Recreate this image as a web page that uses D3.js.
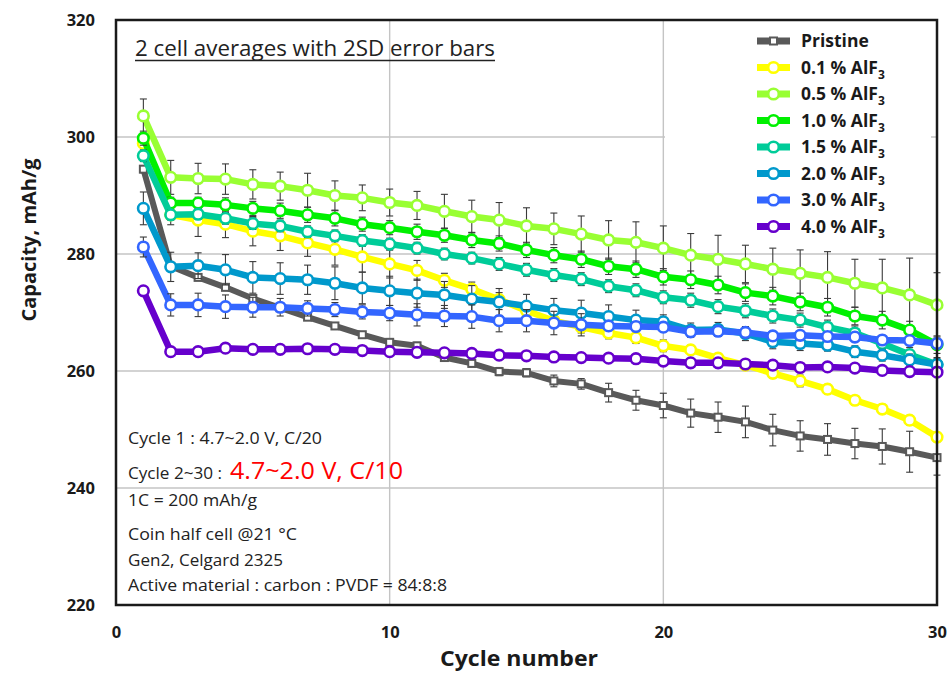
<!DOCTYPE html>
<html>
<head>
<meta charset="utf-8">
<script src="https://cdn.jsdelivr.net/npm/d3@7"></script>
<style>
  html, body { margin: 0; padding: 0; background: #fff; }
  svg { display: block; }
  text { font-family: "Open Sans", "Noto Sans", sans-serif; }
</style>
</head>
<body>
<svg id="chart" width="949" height="676"></svg>
<script>
// Cycle index (x categories)
const cycles = [1,2,3,4,5,6,7,8,9,10,11,12,13,14,15,16,17,18,19,20,21,22,23,24,25,26,27,28,29,30];

// Average discharge capacity (mAh/g) per cycle for each coating level
const pristine  = [294.5,277.9,276.0,274.3,272.4,270.8,269.2,267.7,266.2,264.9,264.3,262.3,261.3,259.9,259.7,258.3,257.8,256.3,255.0,254.1,252.8,252.1,251.3,249.9,248.9,248.3,247.6,247.1,246.2,245.2];
const alf3_01   = [298.9,286.7,285.8,285.1,283.9,283.1,281.9,280.8,279.5,278.3,277.2,275.5,274.0,272.2,270.3,268.6,267.5,266.5,265.7,264.3,263.6,262.2,261.0,259.6,258.3,256.9,255.0,253.5,251.6,248.7];
const alf3_05   = [303.6,293.1,292.9,292.8,291.9,291.6,290.9,290.0,289.6,288.8,288.3,287.3,286.4,285.8,284.8,284.3,283.4,282.4,282.0,281.0,279.8,279.1,278.3,277.4,276.7,276.0,275.0,274.2,273.0,271.3];
const alf3_10   = [299.8,288.7,288.7,288.4,287.8,287.4,286.7,286.1,285.1,284.5,283.8,283.2,282.4,281.8,280.7,279.8,279.1,277.9,277.4,276.1,275.6,274.7,273.4,272.8,271.8,270.9,269.4,268.7,267.0,264.5];
const alf3_15   = [296.8,286.7,286.8,286.1,285.2,284.8,283.8,283.1,282.3,281.7,281.0,280.0,279.3,278.3,277.3,276.4,275.7,274.5,273.8,272.6,272.1,271.0,270.3,269.4,268.7,267.5,266.5,264.7,262.8,261.1];
const alf3_20   = [287.8,277.8,278.0,277.3,276.0,275.8,275.6,275.0,274.2,273.7,273.3,273.0,272.3,271.8,271.1,270.4,269.9,269.3,268.7,268.4,267.0,267.1,266.4,265.0,264.7,264.4,263.3,262.7,261.9,261.1];
const alf3_30   = [281.2,271.3,271.3,271.0,270.9,270.9,270.7,270.5,270.1,269.9,269.6,269.4,269.3,268.6,268.6,268.2,267.9,267.7,267.6,267.5,266.7,266.8,266.6,266.0,266.1,265.9,265.8,265.3,265.2,264.7];
const alf3_40   = [273.7,263.3,263.3,263.9,263.7,263.7,263.8,263.7,263.5,263.3,263.2,263.1,263.0,262.7,262.6,262.4,262.3,262.2,262.1,261.7,261.4,261.4,261.2,261.0,260.6,260.7,260.5,260.1,259.9,259.8];

// 2SD error half-widths (mAh/g)
const pristineErr = [0.6,0.5,0.5,0.5,0.5,0.5,0.5,0.5,0.5,0.5,0.6,0.6,0.6,0.7,0.7,1.0,0.9,1.6,1.7,2.1,2.4,2.6,2.7,2.7,2.6,2.7,2.6,3.0,3.5,3.0];
const alf3_01Err  = [1.5,1.7,2.8,2.3,2.5,2.5,2.3,2.7,2.6,2.4,1.7,1.2,1.2,1.2,1.0,1.0,1.0,1.0,1.0,1.0,0.8,0.8,0.8,0.8,1.0,0.8,0.8,0.8,0.8,0.8];
const alf3_05Err  = [2.9,2.9,2.6,2.6,2.5,2.4,2.9,2.5,2.2,2.3,2.4,2.9,2.8,3.0,3.1,2.7,3.1,3.3,3.5,3.8,3.7,4.1,3.2,3.6,4.0,4.4,4.1,4.9,6.3,5.5];
const alf3_10Err  = [1.2,1.0,1.0,1.2,1.2,1.3,1.3,1.3,1.2,1.2,1.3,1.2,1.3,1.3,1.3,1.3,1.4,1.4,1.4,1.4,1.5,1.5,1.5,1.5,1.5,1.5,1.5,1.5,1.5,1.5];
const alf3_15Err  = [1.0,0.9,0.9,1.0,1.0,1.0,1.0,1.0,1.0,1.0,1.0,1.0,1.0,1.1,1.1,1.1,1.1,1.1,1.1,1.1,1.2,1.2,1.2,1.2,1.2,1.2,1.2,1.2,1.2,1.2];
const alf3_20Err  = [2.8,2.5,2.2,2.6,2.7,2.7,2.5,2.8,2.7,2.5,2.4,2.3,2.3,2.3,2.0,2.0,2.2,2.0,1.7,1.2,1.2,1.2,1.2,1.2,1.2,1.0,1.0,1.0,1.0,1.0];
const alf3_30Err  = [1.7,1.9,2.0,2.0,1.7,1.5,1.3,1.2,1.2,1.3,1.9,1.8,2.0,1.9,1.9,2.0,1.9,0.8,0.8,0.8,0.9,0.9,0.9,0.8,0.8,0.8,0.8,0.8,0.8,0.8];
const alf3_40Err  = [0.4,0.3,0.3,0.3,0.3,0.3,0.3,0.3,0.3,0.3,0.3,0.3,0.3,0.3,0.3,0.3,0.3,0.3,0.3,0.3,0.3,0.3,0.3,0.3,0.3,0.3,0.3,0.3,0.3,0.3];

// Series labels (the "3" is drawn as a subscript)
const seriesNames = ["Pristine","0.1 % AlF","0.5 % AlF","1.0 % AlF","1.5 % AlF","2.0 % AlF","3.0 % AlF","4.0 % AlF"];
const seriesColors = ["#595959","#FFFF00","#99FF33","#00F000","#00CC99","#0099CC","#3366FF","#6600CC"];

// Axis ticks
const xTicks = [0,10,20,30];
const yTicks = [220,240,260,280,300,320];

const seriesValues = [pristine, alf3_01, alf3_05, alf3_10, alf3_15, alf3_20, alf3_30, alf3_40];
const seriesErrors = [pristineErr, alf3_01Err, alf3_05Err, alf3_10Err, alf3_15Err, alf3_20Err, alf3_30Err, alf3_40Err];

const series = seriesNames.map((name, i) => ({
  name, color: seriesColors[i], square: i === 0,
  points: cycles.map((c, j) => ({ c, v: seriesValues[i][j], e: seriesErrors[i][j] }))
}));

const svg = d3.select("#chart");
const plot = { left: 116, top: 20, right: 937, bottom: 605 };

const x = d3.scaleLinear().domain([0, 30]).range([plot.left, plot.right]);
const y = d3.scaleLinear().domain([220, 320]).range([plot.bottom, plot.top]);

// Gridlines
const grid = svg.append("g").attr("stroke", "#C4C4C4").attr("stroke-width", 1.4);
grid.selectAll("line.h").data(yTicks.filter(t => t > 220 && t < 320)).join("line")
  .attr("x1", plot.left).attr("x2", plot.right)
  .attr("y1", d => y(d)).attr("y2", d => y(d));
grid.selectAll("line.v").data(xTicks.filter(t => t > 0 && t < 30)).join("line")
  .attr("y1", plot.top).attr("y2", plot.bottom)
  .attr("x1", d => x(d)).attr("x2", d => x(d));

// Axes (labels only)
const yAxis = svg.append("g").attr("transform", `translate(${plot.left},0)`)
  .call(d3.axisLeft(y).tickValues(yTicks).tickSize(0).tickPadding(21).tickFormat(d3.format("d")));
const xAxis = svg.append("g").attr("transform", `translate(0,${plot.bottom})`)
  .call(d3.axisBottom(x).tickValues(xTicks).tickSize(0).tickPadding(21).tickFormat(d3.format("d")));
[yAxis, xAxis].forEach(a => {
  a.select(".domain").remove();
  a.selectAll("text").attr("font-family", "'Open Sans', sans-serif")
    .attr("font-size", 16.5).attr("font-weight", 700).attr("fill", "#1a1a1a");
});

// Axis titles
svg.append("text").attr("x", 519).attr("y", 666).attr("text-anchor", "middle")
  .attr("font-size", 22).attr("font-weight", 700).attr("fill", "#1a1a1a")
  .attr("textLength", 158).attr("lengthAdjust", "spacingAndGlyphs").text("Cycle number");
svg.append("text").attr("transform", "translate(36,240) rotate(-90)").attr("text-anchor", "middle")
  .attr("font-size", 20).attr("font-weight", 700).attr("fill", "#1a1a1a").text("Capacity, mAh/g");

// Note texts in the lower-left corner
const notes = svg.append("g").attr("fill", "#222").attr("font-size", 16);
const note = (txt, yPos, len) => notes.append("text").attr("x", 128).attr("y", yPos)
  .attr("textLength", len).attr("lengthAdjust", "spacingAndGlyphs").text(txt);
note("Cycle 1 : 4.7~2.0 V, C/20", 444, 194);
note("Cycle 2~30 :", 479, 94);
notes.append("text").attr("x", 230).attr("y", 479).attr("fill", "#FF0000").attr("font-size", 24)
  .attr("textLength", 173).attr("lengthAdjust", "spacingAndGlyphs").text("4.7~2.0 V, C/10");
note("1C = 200 mAh/g", 506, 129);
note("Coin half cell @21 \u00B0C", 540, 169);
note("Gen2, Celgard 2325", 566, 155);
note("Active material : carbon : PVDF = 84:8:8", 591, 319);

// Underlined heading
svg.append("text").attr("x", 135).attr("y", 56)
  .attr("font-size", 21).attr("fill", "#222")
  .attr("textLength", 360).attr("lengthAdjust", "spacingAndGlyphs")
  .text("2 cell averages with 2SD error bars");
svg.append("line").attr("x1", 135).attr("x2", 495).attr("y1", 60.5).attr("y2", 60.5)
  .attr("stroke", "#222").attr("stroke-width", 1.3);

// Legend panel (white background hides gridlines behind it)
const legendX = 757, legendY0 = 41, legendStep = 26.5;
svg.append("rect").attr("x", 665).attr("y", 22).attr("width", 266).attr("height", 220).attr("fill", "#fff");

// Series: line, error bars, then markers
const line = d3.line().x(d => x(d.c)).y(d => y(d.v));
const capHalf = 3.5;

series.forEach(s => {
  const g = svg.append("g");
  g.append("path").datum(s.points).attr("d", line).attr("fill", "none")
    .attr("stroke", s.color).attr("stroke-width", s.square ? 6 : 6.5)
    .attr("stroke-linejoin", "round").attr("stroke-linecap", "round");

  const eb = g.append("g").attr("stroke", "#3a3a3a").attr("stroke-width", 1.1);
  eb.selectAll("line.bar").data(s.points).join("line")
    .attr("x1", d => x(d.c)).attr("x2", d => x(d.c))
    .attr("y1", d => y(d.v + d.e)).attr("y2", d => y(d.v - d.e));
  eb.selectAll("line.top").data(s.points).join("line")
    .attr("x1", d => x(d.c) - capHalf).attr("x2", d => x(d.c) + capHalf)
    .attr("y1", d => y(d.v + d.e)).attr("y2", d => y(d.v + d.e));
  eb.selectAll("line.bot").data(s.points).join("line")
    .attr("x1", d => x(d.c) - capHalf).attr("x2", d => x(d.c) + capHalf)
    .attr("y1", d => y(d.v - d.e)).attr("y2", d => y(d.v - d.e));

  if (s.square) {
    g.selectAll("rect").data(s.points).join("rect")
      .attr("x", d => x(d.c) - 3.5).attr("y", d => y(d.v) - 3.5)
      .attr("width", 7).attr("height", 7)
      .attr("fill", "#fff").attr("stroke", s.color).attr("stroke-width", 2);
  } else {
    g.selectAll("circle").data(s.points).join("circle")
      .attr("cx", d => x(d.c)).attr("cy", d => y(d.v)).attr("r", 5.3)
      .attr("fill", "#fff").attr("stroke", s.color).attr("stroke-width", 2.6);
  }
});

// Legend entries
const leg = svg.append("g");
series.forEach((s, i) => {
  const ly = legendY0 + i * legendStep;
  leg.append("line").attr("x1", legendX).attr("x2", legendX + 33).attr("y1", ly).attr("y2", ly)
    .attr("stroke", s.color).attr("stroke-width", 7);
  if (s.square) {
    leg.append("rect").attr("x", legendX + 16.5 - 3.5).attr("y", ly - 3.5).attr("width", 7).attr("height", 7)
      .attr("fill", "#fff").attr("stroke", s.color).attr("stroke-width", 2);
  } else {
    leg.append("circle").attr("cx", legendX + 16.5).attr("cy", ly).attr("r", 5.3)
      .attr("fill", "#fff").attr("stroke", s.color).attr("stroke-width", 2.6);
  }
  const t = leg.append("text").attr("x", 801).attr("y", ly + 6)
    .attr("font-size", 17.5).attr("font-weight", 700).attr("fill", "#1a1a1a");
  t.append("tspan").text(s.name);
  if (!s.square) t.append("tspan").attr("font-size", 12).attr("dy", 5).text("3");
});

// Plot frame
svg.append("rect").attr("x", plot.left).attr("y", plot.top)
  .attr("width", plot.right - plot.left).attr("height", plot.bottom - plot.top)
  .attr("fill", "none").attr("stroke", "#1a1a1a").attr("stroke-width", 2.5);
</script>
</body>
</html>
